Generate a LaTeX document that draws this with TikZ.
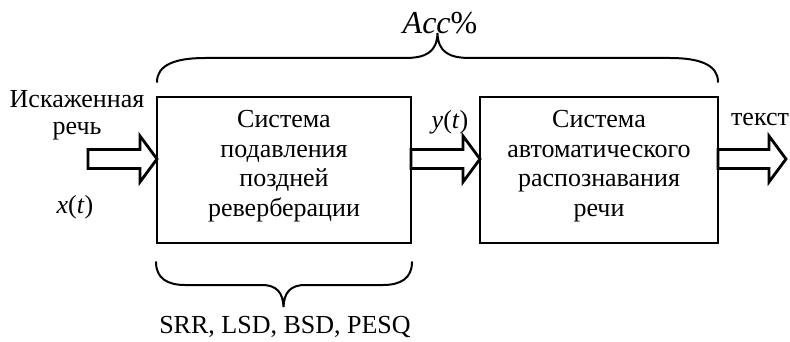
\documentclass[tikz,border=0pt]{standalone}
\usepackage{fontspec}
\setmainfont{Liberation Serif}
\usetikzlibrary{calc}

% block arrow: #1 gives the tail x, #2 the tip x, #3 the common level
\newcommand\shaftarrow[3]{%
  \draw[blockarrow] let \p1=(#1), \p2=(#2), \p3=(#3) in
    (\x1,\y3+9.5pt) -- (\x2-17pt,\y3+9.5pt) -- (\x2-17pt,\y3+23pt)
    -- (\x2,\y3) -- (\x2-17pt,\y3-23pt) -- (\x2-17pt,\y3-9.5pt)
    -- (\x1,\y3-9.5pt) -- cycle;}

\begin{document}
\begin{tikzpicture}[x=1pt,y=-1pt,
  txt/.style={font=\fontsize{26}{29.5}\selectfont, align=center, inner sep=0pt},
  sysbox/.style={draw, line width=2.8pt, outer sep=0pt, minimum height=146pt},
  blockarrow/.style={draw, line width=2.8pt, line join=miter, fill=white},
  bracepath/.style={draw, line width=2pt, line cap=round}]
\useasboundingbox (0,0) rectangle (790,342);

% the two processing stages
\node[sysbox, minimum width=254pt] (sys1) at (284,170) {};
\node[sysbox, minimum width=238pt] (sys2) at (599,170) {};
\node[txt] (sys1text) at ($(sys1.center)+(0,-4)$)
  {Система\\подавления\\поздней\\реверберации};
\node[txt] (sys2text) at ($(sys2.center)+(0,-4)$)
  {Система\\автоматического\\распознавания\\речи};

% signal level and free ends
\coordinate (lvl) at (0,159);
\coordinate (src) at (88,159);
\coordinate (dst) at (786,159);

% signal flow
\shaftarrow{src}{sys1.west}{lvl}
\shaftarrow{sys1.east}{sys2.west}{lvl}
\shaftarrow{sys2.east}{dst}{lvl}

% signal labels
\node[txt, font=\fontsize{26}{27}\selectfont] (inp) at (77,115)
  {Искаженная\\речь};
\node[txt] (xt) at (75,207) {\textit{x}(\textit{t})};
\node[txt] (yt) at (450,122) {\textit{y}(\textit{t})};
\node[txt] (out) at (760,120) {текст};

% overall accuracy brace
\draw[bracepath] (157,82) .. controls (157,65) and (175,58) .. (205,58)
  -- (405,58) .. controls (426,58) and (437,52) .. (437.5,33)
  .. controls (438,52) and (449,58) .. (470,58)
  -- (670,58) .. controls (700,58) and (718,65) .. (718,82);
\node[inner sep=0pt, font=\fontsize{32}{36}\selectfont] (acc) at (440,23)
  {\textit{Acc}\%};

% dereverberation quality brace
\draw[bracepath] (156,262) .. controls (156,278) and (167,285) .. (185,285)
  -- (262,285) .. controls (277,285) and (283,293) .. (283.5,307)
  .. controls (284,293) and (290,285) .. (305,285)
  -- (383,285) .. controls (401,285) and (412,278) .. (412,262);
\node[txt] (metrics) at (285,327) {SRR, LSD, BSD, PESQ};
\end{tikzpicture}
\end{document}
